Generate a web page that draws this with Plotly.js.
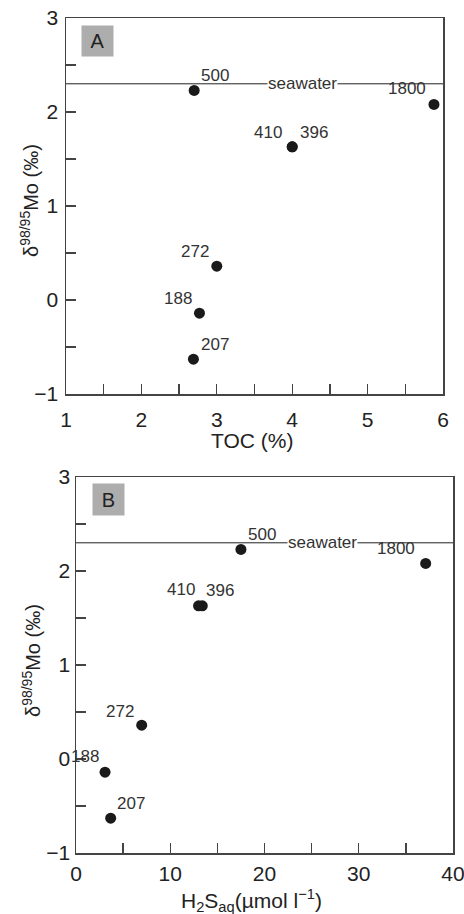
<!DOCTYPE html>
<html>
<head>
<meta charset="utf-8">
<script src="https://cdn.plot.ly/plotly-3.0.1.min.js"></script>
<style>html,body{margin:0;padding:0;background:#fff;}#chart{width:464px;height:914px;}</style>
</head>
<body>
<div id="chart"></div>
<script>
// Data
var samples = ['500', '1800', '410', '396', '272', '188', '207'];
var tocPct = [2.70, 5.88, 4.00, 4.00, 3.00, 2.77, 2.69];
var h2sAq = [17.5, 37.1, 13.0, 13.4, 6.97, 3.08, 3.68];
var delMo = [2.23, 2.08, 1.63, 1.63, 0.36, -0.14, -0.63];
var seawaterMo = 2.30;

// label offsets (pixels) for the sample tags
var offA = [[21, 15], [-27, 16], [-24, 14], [22, 14], [-22, 15], [-21, 15], [22, 15]];
var offB = [[21, 15], [-30, 15], [-18, 16], [18, 15], [-22, 14], [-20, 16], [20, 15]];

var W = 464, H = 914;
var FONT = 'Liberation Sans, Arial, Helvetica, sans-serif';
var TXT = '#222';

function px(x) { return x / W; }
function py(y) { return 1 - y / H; }

var marker = {size: 11, color: '#1a1a1a'};
var traces = [
  {x: tocPct, y: delMo, xaxis: 'x', yaxis: 'y', mode: 'markers', type: 'scatter', marker: marker, cliponaxis: false, hoverinfo: 'skip'},
  {x: h2sAq, y: delMo, xaxis: 'x2', yaxis: 'y2', mode: 'markers', type: 'scatter', marker: marker, cliponaxis: false, hoverinfo: 'skip'}
];

function axisBase(extra) {
  var a = {
    showgrid: false, zeroline: false, showline: true, mirror: true,
    linecolor: '#444', linewidth: 1.5,
    ticks: 'inside', ticklen: 10, tickwidth: 1.3, tickcolor: '#444',
    tickfont: {family: FONT, size: 21, color: TXT},
    ticklabeloverflow: 'allow',
    fixedrange: true
  };
  for (var k in extra) a[k] = extra[k];
  return a;
}

function ann(o) {
  if (!o.xanchor) o.xanchor = 'center';
  if (!o.yanchor) o.yanchor = 'middle';
  o.showarrow = false;
  return o;
}

var LBL = {family: FONT, size: 17, color: '#333'};
var annotations = [];
samples.forEach(function (s, i) {
  annotations.push(ann({xref: 'x', yref: 'y', x: tocPct[i], y: delMo[i], text: s,
    xshift: offA[i][0], yshift: offA[i][1], font: LBL}));
  annotations.push(ann({xref: 'x2', yref: 'y2', x: h2sAq[i], y: delMo[i], text: s,
    xshift: offB[i][0], yshift: offB[i][1], font: LBL}));
});
// seawater labels
annotations.push(ann({xref: 'x', yref: 'y', x: 4.13, y: seawaterMo, text: 'seawater',
  bgcolor: '#fff', borderpad: 0, font: LBL}));
annotations.push(ann({xref: 'x2', yref: 'y2', x: 26.2, y: seawaterMo, text: 'seawater',
  bgcolor: '#fff', borderpad: 0, font: LBL}));
// panel letters
annotations.push(ann({xref: 'paper', yref: 'paper', x: px(97.5), y: py(41), text: 'A',
  bgcolor: '#adadad', width: 31, height: 30, borderpad: 0, font: {family: FONT, size: 20, color: '#222'}}));
annotations.push(ann({xref: 'paper', yref: 'paper', x: px(108.5), y: py(500), text: 'B',
  bgcolor: '#adadad', width: 31, height: 31, borderpad: 0, font: {family: FONT, size: 20, color: '#222'}}));
// axis titles
annotations.push(ann({xref: 'paper', yref: 'paper', x: px(252), y: py(440), text: 'TOC (%)',
  font: {family: FONT, size: 21, color: TXT}}));
annotations.push(ann({xref: 'paper', yref: 'paper', x: px(251), y: py(900), text: 'H<sub>2</sub>S<sub>aq</sub>(µmol l<sup>−1</sup>)',
  font: {family: FONT, size: 21, color: TXT}}));
annotations.push(ann({xref: 'paper', yref: 'paper', x: px(29), y: py(201), text: 'δ<sup>98/95</sup>Mo (‰)', textangle: -90,
  font: {family: FONT, size: 20, color: TXT}}));
annotations.push(ann({xref: 'paper', yref: 'paper', x: px(31), y: py(660), text: 'δ<sup>98/95</sup>Mo (‰)', textangle: -90,
  font: {family: FONT, size: 20, color: TXT}}));

var MINOR = {ticks: 'inside', ticklen: 10, tickwidth: 1.3, tickcolor: '#444'};
function minor(d) { var m = {dtick: d}; for (var k in MINOR) m[k] = MINOR[k]; return m; }

var layout = {
  width: W, height: H,
  margin: {l: 0, r: 0, t: 0, b: 0},
  paper_bgcolor: '#fff', plot_bgcolor: '#fff',
  showlegend: false,
  xaxis: axisBase({domain: [px(66), px(443)], range: [1, 6], dtick: 1, tick0: 0, anchor: 'y',
    ticklabelstandoff: 6, minor: minor(0.5)}),
  yaxis: axisBase({domain: [py(394), py(18)], range: [-1, 3], dtick: 1, tick0: 0, anchor: 'x',
    ticklabelstandoff: 2, minor: minor(0.5)}),
  xaxis2: axisBase({domain: [px(76), px(453)], range: [0, 40], dtick: 10, tick0: 0, anchor: 'y2',
    ticklabelstandoff: 1, minor: minor(5)}),
  yaxis2: axisBase({domain: [py(853), py(477)], range: [-1, 3], dtick: 1, tick0: 0, anchor: 'x2',
    ticklabelstandoff: 0, minor: minor(0.5)}),
  shapes: [
    {type: 'line', xref: 'x domain', yref: 'y', x0: 0, x1: 1, y0: seawaterMo, y1: seawaterMo, line: {color: '#222', width: 1}},
    {type: 'line', xref: 'x2 domain', yref: 'y2', x0: 0, x1: 1, y0: seawaterMo, y1: seawaterMo, line: {color: '#222', width: 1}}
  ],
  annotations: annotations
};

Plotly.newPlot('chart', traces, layout, {displayModeBar: false, staticPlot: true});
</script>
</body>
</html>
